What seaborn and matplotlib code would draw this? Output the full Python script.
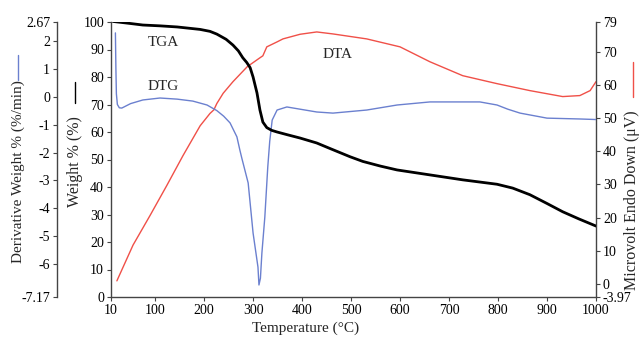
import numpy as np
import pandas as pd
import matplotlib
matplotlib.use("Agg")
import matplotlib.pyplot as plt
from matplotlib.lines import Line2D
import seaborn as sns

# ---- data ----
tga_temp = [14, 43, 75, 110, 145, 192, 212, 226, 245, 259, 270, 279, 287, 294, 300, 308, 314, 320, 328,
            338, 349, 370, 396, 430, 457, 498, 524, 560, 594, 661, 728, 798, 830, 865, 900, 932, 965, 1000]
tga_weight = [100.2, 99.6, 98.9, 98.6, 98.2, 97.3, 96.6, 95.6, 93.7, 91.6, 89.5, 87.0, 85.3, 83.4, 80.0,
              74.2, 68.0, 63.6, 61.6, 60.6, 60.0, 59.0, 57.8, 56.0, 54.0, 51.0, 49.3, 47.6, 46.2, 44.4,
              42.6, 41.0, 39.6, 37.2, 34.0, 31.0, 28.4, 25.8]

dtg_temp = [19, 20, 21, 23, 27, 32, 50, 75, 110, 145, 177, 206, 226, 240, 253, 267, 273, 277, 290, 300,
            310, 312, 315, 318, 324, 330, 334, 339, 349, 369, 396, 430, 463, 532, 594, 661, 763, 798,
            820, 845, 900, 967, 1000]
dtg_value = [2.28, 1.0, 0.1, -0.28, -0.4, -0.41, -0.25, -0.12, -0.05, -0.09, -0.16, -0.3, -0.5, -0.7,
             -0.94, -1.44, -1.91, -2.2, -3.09, -4.88, -6.1, -6.74, -6.5, -5.6, -4.31, -2.52, -1.6, -0.84,
             -0.48, -0.37, -0.45, -0.55, -0.59, -0.48, -0.3, -0.19, -0.19, -0.3, -0.45, -0.59, -0.77,
             -0.8, -0.82]

dta_temp = [22, 55, 90, 124, 157, 192, 212, 220, 226, 239, 259, 288, 314, 320, 328, 349, 361, 396, 430,
            463, 532, 600, 661, 728, 798, 865, 932, 967, 988, 1000]
dta_uv = [0.9, 11.7, 20.7, 29.7, 38.7, 47.7, 51.4, 52.5, 54.4, 57.5, 61.0, 65.5, 68.2, 68.8, 71.5, 73.0,
          73.9, 75.3, 76.0, 75.4, 73.9, 71.5, 67.0, 62.8, 60.4, 58.3, 56.5, 56.8, 58.3, 61.0]

x_ticks = [10, 100, 200, 300, 400, 500, 600, 700, 800, 900, 1000]
weight_ticks = [0, 10, 20, 30, 40, 50, 60, 70, 80, 90, 100]
dtg_ticks = [2.67, 2, 1, 0, -1, -2, -3, -4, -5, -6, -7.17]
dtg_ticklabels = ["2.67", "2", "1", "0", "-1", "-2", "-3", "-4", "-5", "-6", "-7.17"]
dta_ticks = [79, 70, 60, 50, 40, 30, 20, 10, 0, -3.97]
dta_ticklabels = ["79", "70", "60", "50", "40", "30", "20", "10", "0", "-3.97"]

sns.set_style("ticks")
plt.rcParams['font.family'] = ['Liberation Serif', 'DejaVu Serif']
plt.rcParams['font.size'] = 10

W, H = 644, 339
fig = plt.figure(figsize=(W / 100, H / 100), dpi=100)
L, R, T, B = 111, 596, 22, 297
ax = fig.add_axes([L / W, 1 - B / H, (R - L) / W, (B - T) / H])
ax_dta = ax.twinx()
ax_dtg = ax.twinx()

red = '#f05048'
blue = '#6b80cf'
spine_c = '#444444'

tga = pd.DataFrame({'T': tga_temp, 'v': tga_weight})
dtg = pd.DataFrame({'T': dtg_temp, 'v': dtg_value})
dta = pd.DataFrame({'T': dta_temp, 'v': dta_uv})

sns.lineplot(data=dtg, x='T', y='v', ax=ax_dtg, color=blue, lw=1.0, sort=False, estimator=None)
sns.lineplot(data=dta, x='T', y='v', ax=ax_dta, color=red, lw=1.0, sort=False, estimator=None)
sns.lineplot(data=tga, x='T', y='v', ax=ax, color='black', lw=2.0, sort=False, estimator=None)
ax.set_zorder(3)
ax.patch.set_visible(False)

ax.set_xlim(10, 1000)
ax.set_ylim(0, 100)
ax.set_xticks(x_ticks)
ax.set_yticks(weight_ticks)
ax_dta.set_ylim(-3.97, 79)
ax_dta.set_yticks(dta_ticks)
ax_dta.set_yticklabels(dta_ticklabels)
ax_dtg.set_ylim(-7.17, 2.67)
ax_dtg.set_yticks(dtg_ticks)
ax_dtg.set_yticklabels(dtg_ticklabels)

ax_dtg.yaxis.tick_left()
ax_dtg.spines['left'].set_position(('outward', 54 * 72 / 100))

for a in (ax, ax_dta, ax_dtg):
    a.set_xlabel('')
    a.set_ylabel('')
    for s in a.spines.values():
        s.set_visible(False)
        s.set_color(spine_c)
        s.set_linewidth(1.0)
    a.tick_params(colors=spine_c, labelcolor='black', labelsize=10, length=3, width=0.8, pad=2)

ax.spines['left'].set_visible(True)
ax.spines['bottom'].set_visible(True)
ax_dta.spines['right'].set_visible(True)
ax_dtg.spines['left'].set_visible(True)

# annotations
ax.text(116, 92.4, 'TGA', ha='center', va='center', fontsize=11)
ax.text(116, 76.7, 'DTG', ha='center', va='center', fontsize=11)
ax.text(473, 88.0, 'DTA', ha='center', va='center', fontsize=11)

# axis labels with colour keys
def px(x, y):
    return x / W, 1 - y / H

fx, fy = px(306, 0)
fig.text(fx, 1 - 328 / H, 'Temperature (°C)', ha='center', va='center', fontsize=11)

x0, y0 = px(18, 263)
fig.text(x0, y0, 'Derivative Weight % (%/min)', rotation=90, ha='center', va='bottom', fontsize=11)
fig.add_artist(Line2D([18 / W, 18 / W], [1 - 80 / H, 1 - 55 / H], color=blue, lw=1.0, transform=fig.transFigure))

x0, y0 = px(75, 207)
fig.text(x0, y0, 'Weight % (%)', rotation=90, ha='center', va='bottom', fontsize=11.5)
fig.add_artist(Line2D([75 / W, 75 / W], [1 - 103 / H, 1 - 82 / H], color='black', lw=1.0, transform=fig.transFigure))

x0, y0 = px(632, 290)
fig.text(x0, y0, 'Microvolt Endo Down (μV)', rotation=90, ha='center', va='bottom', fontsize=11.5)
fig.add_artist(Line2D([633 / W, 633 / W], [1 - 97 / H, 1 - 62 / H], color=red, lw=1.0, transform=fig.transFigure))

fig.savefig('out.png', dpi=100)
